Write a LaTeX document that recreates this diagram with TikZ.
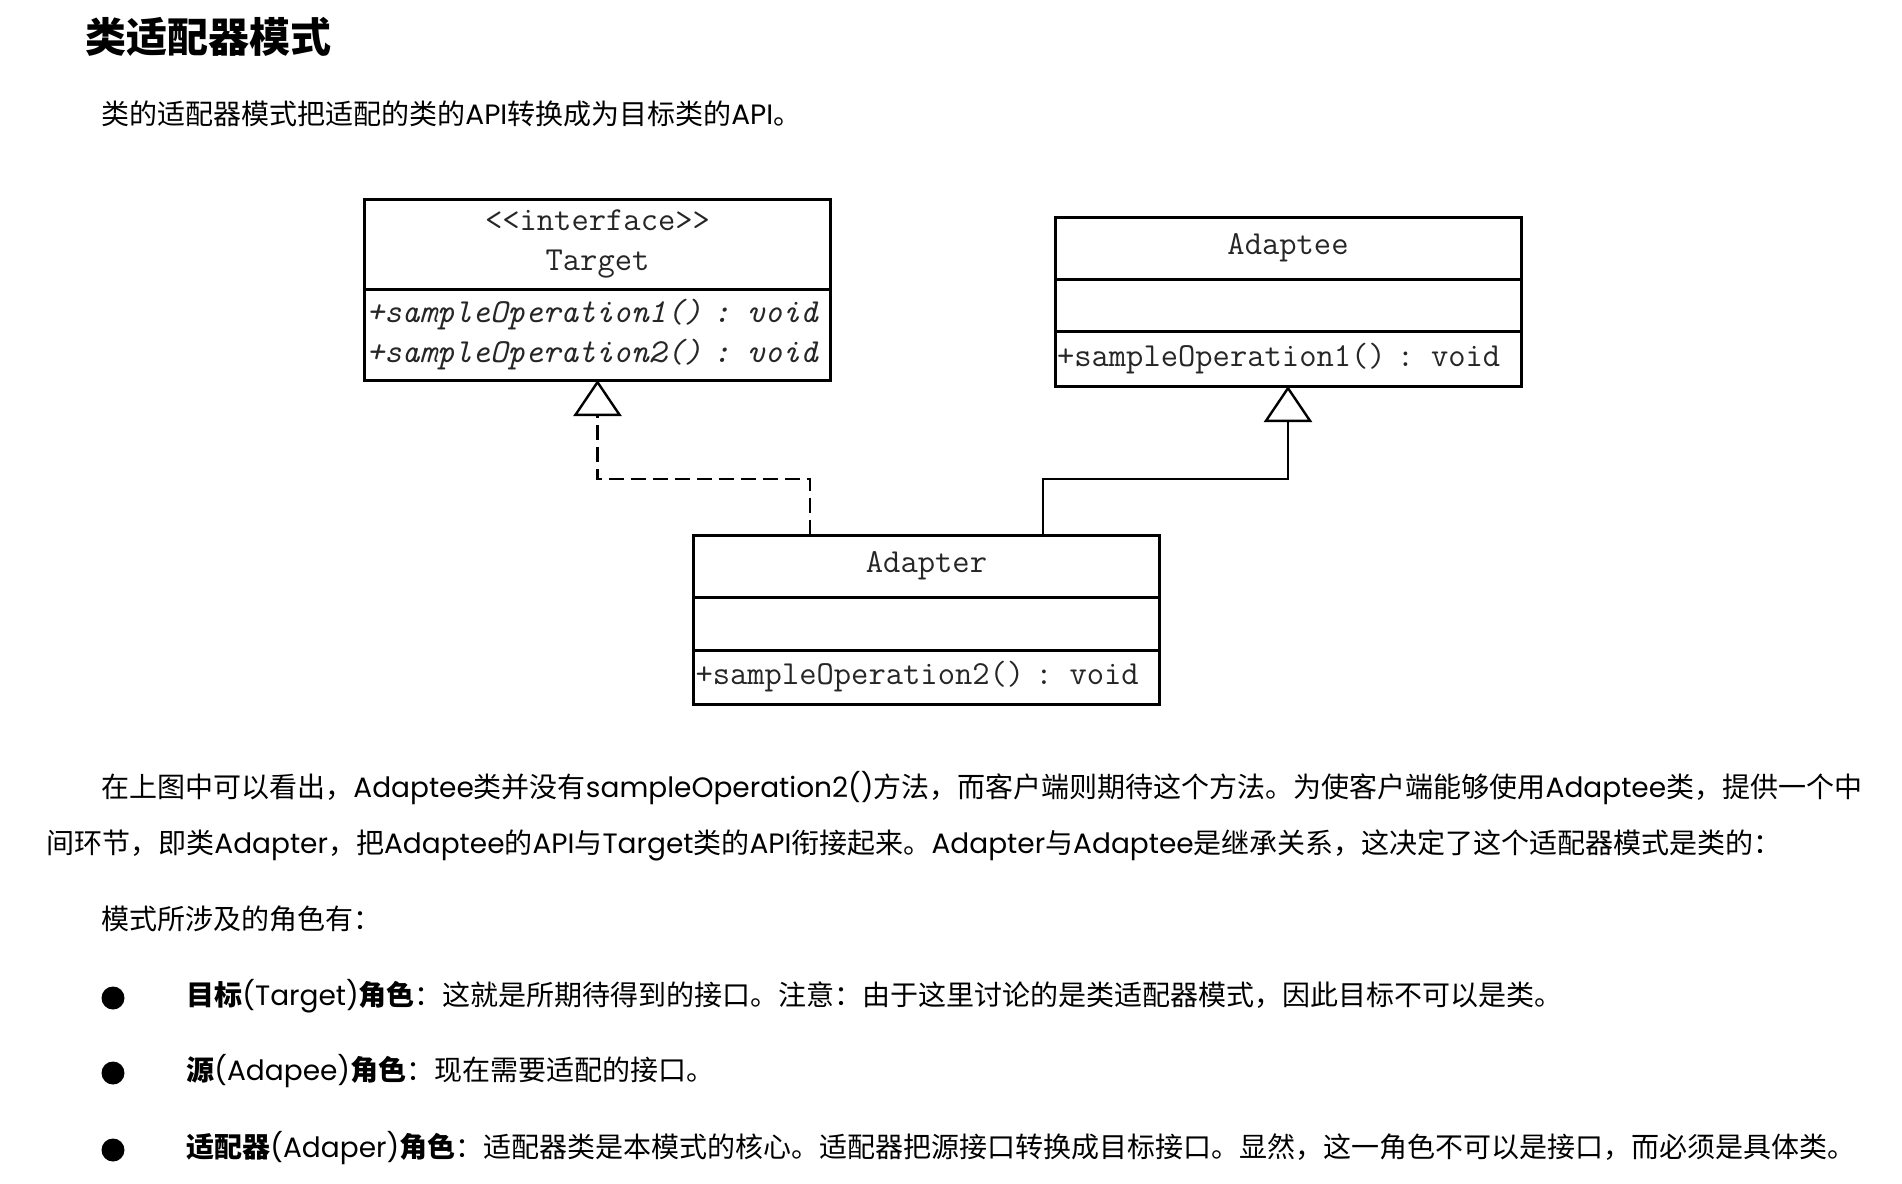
\documentclass[tikz,border=0pt]{standalone}
\usepackage{fontspec}
\setmainfont{Noto Sans CJK SC}
\newfontfamily\lat{Poppins}
\usetikzlibrary{arrows.meta,positioning,calc}

\begin{document}
\begin{tikzpicture}[x=0.5pt,y=-0.5pt]
\tikzset{txt/.style = {anchor=west, inner sep=0pt, text height=0.88em,
text depth=0.12em, font=\fontsize{14}{17}\selectfont}}
\tikzset{dot/.style = {circle, fill=black, minimum size=11.5pt, inner sep=0pt}}
\tikzset{cls/.style = {draw, line width=1.5pt, outer sep=0pt, minimum width=233pt,
text=black!85, font=\ttfamily\fontsize{16.8}{20}\selectfont}}
\tikzset{clshead/.style = {cls, align=center}}
\tikzset{clsbody/.style = {cls, text width=231pt, inner xsep=1pt, align=left}}
\tikzset{edge/.style = {line width=1.1pt,
-{Triangle[length=18pt,width=24pt,fill=white,line width=1.2pt]}}}
\useasboundingbox (0,0) rectangle (1902,1184);
% heading
\node[anchor=west, inner sep=0pt, font=\bfseries\fontsize{20.5}{24}\selectfont] (title) at (85,37) {类适配器模式};
\node[txt] (intro) at (101,117) {类的适配器模式把适配的类的{\lat API}转换成为目标类的{\lat API}。};
% classes
\node[clshead, minimum height=45pt] (target) at (597.5,244) {<{}<interface>{}>\\Target};
\node[clsbody, minimum height=45.5pt, below=0pt of target,
font=\ttfamily\itshape\fontsize{16.8}{20}\selectfont] (targetops) {+sampleOperation1() : void\\+sampleOperation2() : void};
\node[clshead, minimum height=31pt] (adaptee) at (1288,248) {Adaptee};
\node[clsbody, minimum height=26pt, below=0pt of adaptee] (adapteeattr) {};
\node[clsbody, minimum height=27.5pt, below=0pt of adapteeattr] (adapteeops) {+sampleOperation1() : void};
\node[clshead, minimum height=31pt] (adapter) at (926.5,566) {Adapter};
\node[clsbody, minimum height=26.5pt, below=0pt of adapter] (adapterattr) {};
\node[clsbody, minimum height=27pt, below=0pt of adapterattr] (adapterops) {+sampleOperation2() : void};
% relations
\draw[edge, dash pattern=on 7.5pt off 3.5pt] ($(adapter.north west)!0.25!(adapter.north east)$) -- ++(0,-56) -| (targetops.south);
\draw[edge] ($(adapter.north west)!0.75!(adapter.north east)$) -- ++(0,-56) -| (adapteeops.south);
% text
\node[txt] (para1) at (101,790) {在上图中可以看出，{\lat Adaptee}类并没有{\lat sampleOperation2()}方法，而客户端则期待这个方法。为使客户端能够使用{\lat Adaptee}类，提供一个中};
\node[txt] (para2) at (46,846) {间环节，即类{\lat Adapter}，把{\lat Adaptee}的{\lat API}与{\lat Target}类的{\lat API}衔接起来。{\lat Adapter}与{\lat Adaptee}是继承关系，这决定了这个适配器模式是类的：};
\node[txt] (roles) at (101,922) {模式所涉及的角色有：};
\node[dot] (dot1) at (113,998) {};
\node[dot] (dot2) at (113,1073) {};
\node[dot] (dot3) at (113,1150) {};
\node[txt] (role1) at (186,998) {\textbf{目标}{\lat(Target)}\textbf{角色}：这就是所期待得到的接口。注意：由于这里讨论的是类适配器模式，因此目标不可以是类。};
\node[txt] (role2) at (186,1073) {\textbf{源}{\lat(Adapee)}\textbf{角色}：现在需要适配的接口。};
\node[txt] (role3) at (186,1150) {\textbf{适配器}{\lat(Adaper)}\textbf{角色}：适配器类是本模式的核心。适配器把源接口转换成目标接口。显然，这一角色不可以是接口，而必须是具体类。};
\end{tikzpicture}
\end{document}
